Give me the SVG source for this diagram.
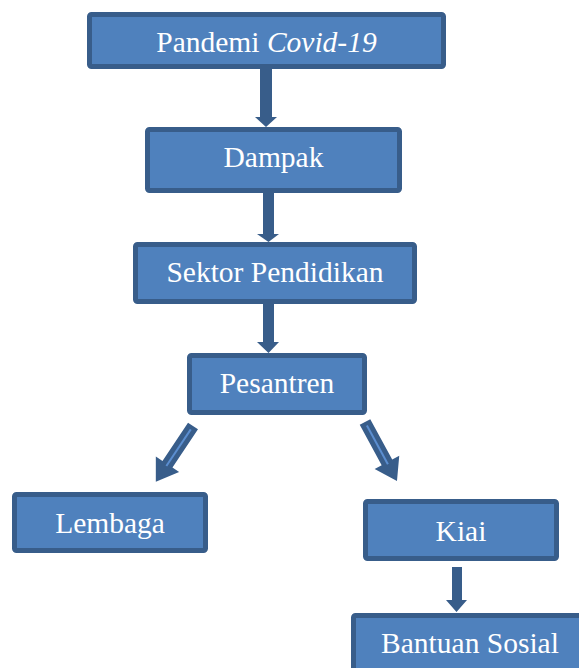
<svg xmlns="http://www.w3.org/2000/svg" width="579" height="668" viewBox="0 0 579 668">
<style>
.box{fill:#4f81bd;stroke:#385d8a;stroke-width:5}
.lbl{font-family:"Liberation Serif","DejaVu Serif",serif;font-size:29.5px;fill:#ffffff;text-anchor:middle}
.arr{fill:#385d8a}
.hl{stroke:#5b8ed0;stroke-width:2;fill:none}
</style>
<defs>
<polygon id="diag" points="0,-6 46,-6 46,-14 67,0 46,14 46,6 0,6"/>
</defs>
<rect width="579" height="668" fill="#ffffff"/>
<g id="connectors">
<polygon class="arr" points="260,69 272,69 272,117 277,117 266,127 255,117 260,117"/>
<polygon class="arr" points="263,193 274,193 274,234 279,234 268.5,242 257,234 263,234"/>
<polygon class="arr" points="263,304 274,304 274,342 279,342 268.5,353 257,342 263,342"/>
<polygon class="arr" points="452,567 462,567 462,600 467,600 456.5,612 446,600 452,600"/>
<g transform="translate(193,426) rotate(123.7)">
<use href="#diag" class="arr"/>
<line class="hl" x1="4" y1="0" x2="48" y2="0"/>
</g>
<g transform="translate(365,422) rotate(61.5)">
<use href="#diag" class="arr"/>
<line class="hl" x1="4" y1="0" x2="48" y2="0"/>
</g>
</g>
<g id="n1"><rect class="box" x="89.5" y="14.5" width="354" height="52" rx="2"/><text class="lbl" x="266.5" y="52">Pandemi <tspan font-style="italic">Covid-19</tspan></text></g>
<g id="n2"><rect class="box" x="147.5" y="129.5" width="252" height="61" rx="2"/><text class="lbl" x="273.5" y="167">Dampak</text></g>
<g id="n3"><rect class="box" x="135.5" y="244.5" width="279" height="57" rx="2"/><text class="lbl" x="275" y="282">Sektor Pendidikan</text></g>
<g id="n4"><rect class="box" x="189.5" y="355.5" width="175" height="57" rx="2"/><text class="lbl" x="277" y="393">Pesantren</text></g>
<g id="n5"><rect class="box" x="14.5" y="494.5" width="191" height="56" rx="2"/><text class="lbl" x="110" y="533">Lembaga</text></g>
<g id="n6"><rect class="box" x="365.5" y="501.5" width="191" height="57" rx="2"/><text class="lbl" x="461" y="541">Kiai</text></g>
<g id="n7"><rect class="box" x="353.5" y="615.5" width="234" height="57" rx="2"/><text class="lbl" x="470" y="653">Bantuan Sosial</text></g>
</svg>
